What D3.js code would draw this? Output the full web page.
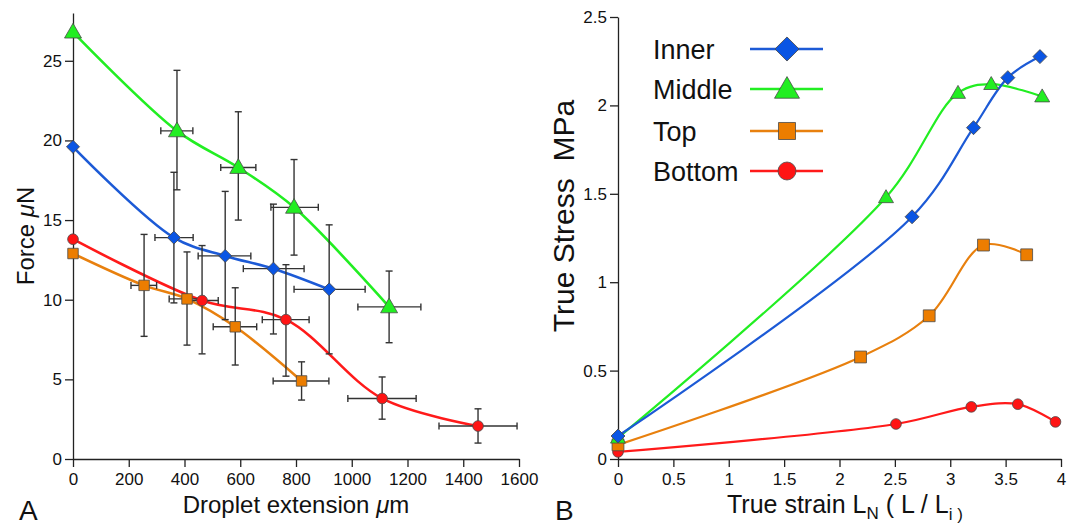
<!DOCTYPE html>
<html>
<head>
<meta charset="utf-8">
<script src="https://cdn.jsdelivr.net/npm/d3@7"></script>
<style>
  body { margin: 0; background: #fff; }
  svg { display: block; }
</style>
</head>
<body>
<script>
// ---- panel A : force vs droplet extension ----
var aXTicks = [0, 200, 400, 600, 800, 1000, 1200, 1400, 1600];
var aYTicks = [0, 5, 10, 15, 20, 25];

var innerAx = [0, 362, 546, 719, 919];
var innerAy = [19.6, 13.9, 12.75, 11.95, 10.65];
var innerAxErr = [null, [294, 431], [449, 638], [611, 829], [793, 1048]];
var innerAyErr = [null, [9.8, 18.0], [8.75, 16.8], [7.85, 16.0], [6.6, 14.7]];

var middleAx = [0, 373, 593, 793, 1134];
var middleAy = [26.8, 20.6, 18.3, 15.8, 9.55];
var middleAxErr = [null, [315, 430], [530, 656], [710, 880], [1022, 1248]];
var middleAyErr = [null, [16.9, 24.4], [15.0, 21.8], [12.8, 18.8], [7.3, 11.8]];

var topAx = [0, 255, 409, 582, 820];
var topAy = [12.9, 10.9, 10.05, 8.3, 4.9];
var topAxErr = [null, [208, 300], [345, 470], [503, 659], [718, 918]];
var topAyErr = [null, [7.7, 14.1], [7.15, 13.0], [5.9, 10.75], [3.7, 6.1]];

var bottomAx = [0, 463, 764, 1109, 1453];
var bottomAy = [13.8, 9.95, 8.75, 3.8, 2.07];
var bottomAxErr = [null, [405, 521], [679, 847], [986, 1231], [1313, 1593]];
var bottomAyErr = [null, [6.6, 13.4], [5.2, 12.2], [2.5, 5.15], [1.0, 3.15]];

// ---- panel B : true stress vs true strain ----
var bXTicks = [0, 0.5, 1, 1.5, 2, 2.5, 3, 3.5, 4];
var bYTicks = [0, 0.5, 1, 1.5, 2, 2.5];

var innerBx = [0, 2.655, 3.21, 3.52, 3.81];
var innerBy = [0.13, 1.37, 1.874, 2.157, 2.276];
var middleBx = [0, 2.42, 3.07, 3.37, 3.83];
var middleBy = [0.12, 1.48, 2.07, 2.12, 2.05];
var topBx = [0, 2.19, 2.81, 3.30, 3.69];
var topBy = [0.08, 0.577, 0.81, 1.21, 1.155];
var bottomBx = [0, 2.51, 3.19, 3.61, 3.95];
var bottomBy = [0.04, 0.198, 0.295, 0.31, 0.21];

var names = ["Inner", "Middle", "Top", "Bottom"];
var lineColors = ["#1c5ad6", "#22ee22", "#e8800e", "#ff1a1a"];
var markColors = ["#0a55e4", "#22ee22", "#ec7d00", "#ff1414"];
var shapes = ["diamond", "triangle", "square", "circle"];

var font = "'Liberation Sans', Arial, Helvetica, sans-serif";

var svg = d3.select("body").append("svg")
  .attr("width", 1067)
  .attr("height", 525)
  .style("font-family", font);

function zip(xs, ys, xe, ye) {
  return xs.map(function(v, i) {
    return {x: v, y: ys[i], xe: xe ? xe[i] : null, ye: ye ? ye[i] : null};
  });
}

var seriesA = [
  zip(innerAx, innerAy, innerAxErr, innerAyErr),
  zip(middleAx, middleAy, middleAxErr, middleAyErr),
  zip(topAx, topAy, topAxErr, topAyErr),
  zip(bottomAx, bottomAy, bottomAxErr, bottomAyErr)
];
var seriesB = [
  zip(innerBx, innerBy),
  zip(middleBx, middleBy),
  zip(topBx, topBy),
  zip(bottomBx, bottomBy)
];

function symbolPath(shape, size) {
  if (shape == "diamond") return d3.symbol().type(d3.symbolSquare).size(size)();
  if (shape == "triangle") return d3.symbol().type(d3.symbolTriangle).size(size)();
  if (shape == "square") return d3.symbol().type(d3.symbolSquare).size(size)();
  return d3.symbol().type(d3.symbolCircle).size(size)();
}

function drawMarker(g, shape, cx, cy, size, color) {
  g.append("path")
    .attr("d", symbolPath(shape, size))
    .attr("transform", "translate(" + cx + "," + cy + ")" + (shape == "diamond" ? " rotate(45)" : ""))
    .attr("fill", color)
    .attr("stroke", "#4a4a4a")
    .attr("stroke-width", 0.8);
}

function range(a, b, step) {
  var out = [];
  var n = Math.round((b - a) / step);
  for (var i = 0; i <= n; i++) out.push(+(a + i * step).toFixed(4));
  return out;
}

function axes(x, y, xMajor, xMinor, yMajor, yMinor) {
  var gx = svg.append("g").attr("transform", "translate(0," + y.range()[0] + ")");
  gx.call(d3.axisBottom(x).tickValues(xMinor).tickSize(5).tickSizeOuter(0).tickFormat(""));
  gx.call(d3.axisBottom(x).tickValues(xMajor).tickSize(8).tickSizeOuter(0).tickPadding(6)
    .tickFormat(d3.format("")));

  var gy = svg.append("g").attr("transform", "translate(" + x.range()[0] + ",0)");
  gy.call(d3.axisLeft(y).tickValues(yMinor).tickSize(4).tickSizeOuter(0).tickFormat(""));
  gy.call(d3.axisLeft(y).tickValues(yMajor).tickSize(8).tickSizeOuter(0).tickPadding(3)
    .tickFormat(d3.format("")));

  [gx, gy].forEach(function(g) {
    g.selectAll("path, line").attr("stroke", "#222").attr("stroke-width", 1.3);
    g.selectAll("text").attr("fill", "#111").style("font-size", "17px").style("font-family", font);
  });
}

// ---------- Panel A ----------
var xA = d3.scaleLinear().domain([0, 1600]).range([73, 519]);
var yA = d3.scaleLinear().domain([0, 28]).range([459, 13]);
axes(xA, yA, aXTicks, range(0, 1600, 100), aYTicks, range(0, 28, 1));

var curve = d3.curveCatmullRom.alpha(0.5);
var lineA = d3.line().x(function(d) { return xA(d.x); }).y(function(d) { return yA(d.y); }).curve(curve);

seriesA.forEach(function(s, i) {
  svg.append("path").attr("d", lineA(s)).attr("fill", "none")
    .attr("stroke", lineColors[i]).attr("stroke-width", 2.6);
});

var eb = svg.append("g").attr("stroke", "#333").attr("stroke-width", 1.4);
var cap = 3.5;
seriesA.forEach(function(s) {
  s.forEach(function(d) {
    var px = xA(d.x), py = yA(d.y);
    if (d.xe) {
      var x0 = xA(d.xe[0]), x1 = xA(d.xe[1]);
      eb.append("line").attr("x1", x0).attr("x2", x1).attr("y1", py).attr("y2", py);
      eb.append("line").attr("x1", x0).attr("x2", x0).attr("y1", py - cap).attr("y2", py + cap);
      eb.append("line").attr("x1", x1).attr("x2", x1).attr("y1", py - cap).attr("y2", py + cap);
    }
    if (d.ye) {
      var y0 = yA(d.ye[0]), y1 = yA(d.ye[1]);
      eb.append("line").attr("x1", px).attr("x2", px).attr("y1", y0).attr("y2", y1);
      eb.append("line").attr("x1", px - cap).attr("x2", px + cap).attr("y1", y0).attr("y2", y0);
      eb.append("line").attr("x1", px - cap).attr("x2", px + cap).attr("y1", y1).attr("y2", y1);
    }
  });
});

var sizesA = [85, 125, 110, 90];
var mA = svg.append("g");
seriesA.forEach(function(s, i) {
  s.forEach(function(d) {
    drawMarker(mA, shapes[i], xA(d.x), yA(d.y) + (shapes[i] == "triangle" ? 1 : 0), sizesA[i], markColors[i]);
  });
});

svg.append("text").attr("x", 296).attr("y", 513).attr("text-anchor", "middle")
  .style("font-size", "24px").attr("fill", "#111")
  .html("Droplet extension <tspan font-style='italic'>\u03bc</tspan>m");

svg.append("text").attr("transform", "translate(34,236) rotate(-90)").attr("text-anchor", "middle")
  .style("font-size", "24px").attr("fill", "#111")
  .html("Force <tspan font-style='italic'>\u03bc</tspan>N");

svg.append("text").attr("x", 19).attr("y", 520).style("font-size", "28px").attr("fill", "#111").text("A");

// ---------- Panel B ----------
var xB = d3.scaleLinear().domain([0, 4]).range([618, 1061]);
var yB = d3.scaleLinear().domain([0, 2.5]).range([459, 17]);
axes(xB, yB, bXTicks, range(0, 4, 0.1), bYTicks, range(0, 2.5, 0.1));

var lineB = d3.line().x(function(d) { return xB(d.x); }).y(function(d) { return yB(d.y); }).curve(curve);

var orderB = [3, 2, 1, 0];
orderB.forEach(function(i) {
  svg.append("path").attr("d", lineB(seriesB[i])).attr("fill", "none")
    .attr("stroke", lineColors[i]).attr("stroke-width", 2.2);
});
var sizesB = [98, 97, 140, 90];
var mB = svg.append("g");
orderB.forEach(function(i) {
  seriesB[i].forEach(function(d) {
    drawMarker(mB, shapes[i], xB(d.x), yB(d.y) + (shapes[i] == "triangle" ? 1 : 0), sizesB[i], markColors[i]);
  });
});

// legend
var legY = [49, 89, 131, 171];
var legSizes = [290, 270, 290, 254];
names.forEach(function(n, i) {
  svg.append("text").attr("x", 653).attr("y", legY[i] + 9.5)
    .style("font-size", "27px").attr("fill", "#111").text(n);
  svg.append("line").attr("x1", 750).attr("x2", 823).attr("y1", legY[i]).attr("y2", legY[i])
    .attr("stroke", lineColors[i]).attr("stroke-width", 2.6);
  drawMarker(svg, shapes[i], 787, legY[i] + (shapes[i] == "triangle" ? 2 : 0), legSizes[i], markColors[i]);
});

svg.append("text").attr("transform", "translate(574,216) rotate(-90)").attr("text-anchor", "middle")
  .style("font-size", "30px").attr("fill", "#111")
  .style("white-space", "pre")
  .text("True Stress  MPa");

svg.append("text").attr("x", 727).attr("y", 513)
  .style("font-size", "25px").attr("fill", "#111")
  .html("True strain L<tspan dy='6' font-size='17px'>N</tspan><tspan dy='-6'> ( L / L</tspan><tspan dy='7' font-size='17px'>i )</tspan>");

svg.append("text").attr("x", 555).attr("y", 520).style("font-size", "28px").attr("fill", "#111").text("B");
</script>
</body>
</html>
